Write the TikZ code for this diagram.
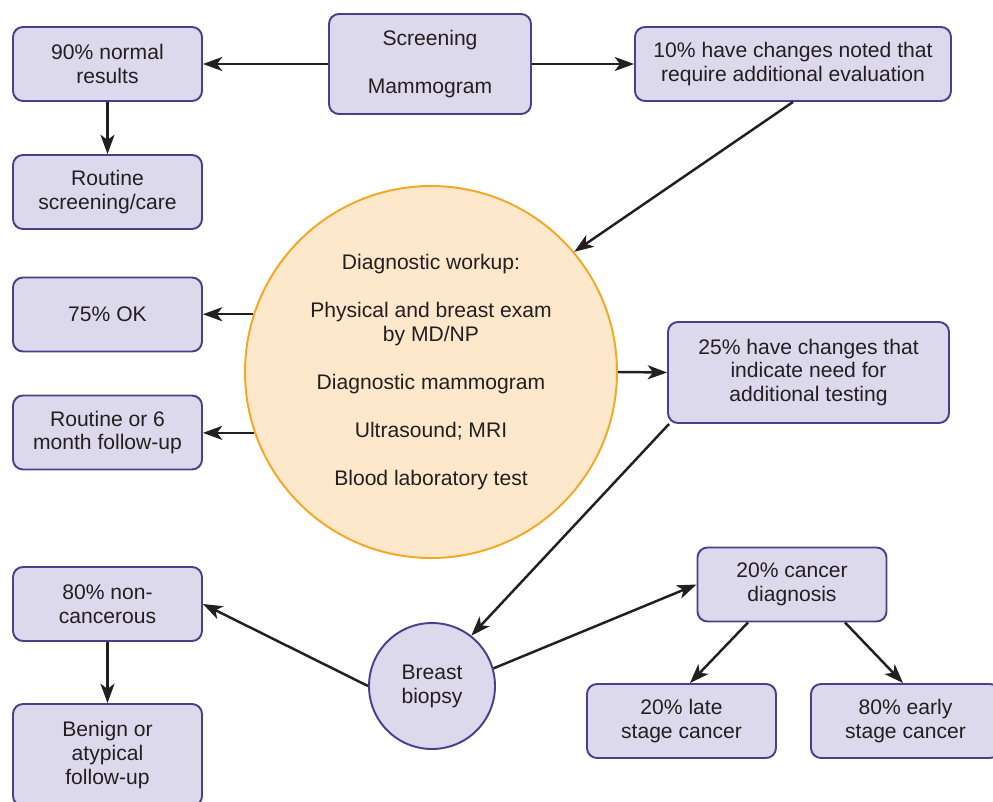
\documentclass[tikz,border=0pt]{standalone}
\usepackage{fontspec}
\setmainfont{Liberation Sans}
\usepackage{xcolor}
\usepackage{tikz}
\usetikzlibrary{calc, arrows.meta, positioning}

\definecolor{boxfill}{HTML}{DCD9EC}
\definecolor{boxline}{HTML}{4B3F8C}
\definecolor{diagfill}{HTML}{FDE8CB}
\definecolor{diagline}{HTML}{F5A623}
\definecolor{arrline}{HTML}{231F20}

\begin{document}
\begin{tikzpicture}[>={Stealth[length=11pt, width=8pt, inset=3pt]},
    every node/.style={font=\fontsize{12}{13.6}\selectfont, text=arrline, align=center},
    box/.style={draw=boxline, fill=boxfill, line width=1.1pt, rounded corners=0.2cm,
        minimum width=3.78cm, minimum height=1.48cm, inner sep=2pt},
    bigcirc/.style={circle, draw=diagline, fill=diagfill, line width=1.1pt, minimum size=7.44cm},
    smallcirc/.style={circle, draw=boxline, fill=boxfill, line width=1.1pt, minimum size=2.52cm},
    arr/.style={->, line width=1.4pt, draw=arrline}]
    % 1. Khung hình
    \useasboundingbox (0,0) rectangle (19.86,-16.02);
    \clip (0,0) rectangle (19.86,-16.02);

    % 2. Các nút
    \node[box, minimum width=4.04cm, minimum height=2cm] (screen) at (8.6,-1.28) {Screening\\[13.6pt]Mammogram};
    \node[box] (normal) at (2.15,-1.28) {90\% normal\\results};
    \node[box] (routine) at (2.15,-3.84) {Routine\\screening/care};
    \node[box, minimum width=6.32cm] (ten) at (15.86,-1.28) {10\% have changes noted that\\require additional evaluation};
    \node[bigcirc] (diag) at (8.62,-7.44) {Diagnostic workup:\\[13.6pt]Physical and breast exam\\by MD/NP\\[13.6pt]Diagnostic mammogram\\[13.6pt]Ultrasound; MRI\\[13.6pt]Blood laboratory test};
    \node[box] (ok) at (2.15,-6.29) {75\% OK};
    \node[box] (followup) at (2.15,-8.65) {Routine or 6\\month follow-up};
    \node[box, minimum width=5.62cm, minimum height=2.02cm] (twentyfive) at (16.17,-7.45) {25\% have changes that\\indicate need for\\additional testing};
    \node[smallcirc] (biopsy) at (8.64,-13.72) {Breast\\biopsy};
    \node[box] (noncanc) at (2.15,-12.08) {80\% non-\\cancerous};
    \node[box, minimum height=2.04cm] (benign) at (2.15,-15.1) {Benign or\\atypical\\follow-up};
    \node[box] (cancer) at (15.84,-11.69) {20\% cancer\\diagnosis};
    \node[box] (late) at (13.63,-14.42) {20\% late\\stage cancer};
    \node[box] (early) at (18.11,-14.42) {80\% early\\stage cancer};

    % 3. Mũi tên
    \draw[arr] (screen.west) -- (normal.east);
    \draw[arr] (screen.east) -- (ten.west);
    \draw[arr] (normal.south) -- (routine.north);
    \draw[arr] (ten.south) -- (diag.40);
    \draw[arr] (diag.162) -- (ok.east |- diag.162);
    \draw[arr] (diag.199) -- (followup.east |- diag.199);
    \draw[arr] (diag.east) -- (twentyfive.west);
    \draw[arr] ([xshift=0.04cm]twentyfive.south west) -- (biopsy.52);
    \draw[arr] (biopsy.west) -- (noncanc.east);
    \draw[arr] (noncanc.south) -- (benign.north);
    \draw[arr] (biopsy.16) -- (cancer.west);
    \draw[arr] ([xshift=-0.88cm]cancer.south) -- ([xshift=0.17cm]late.north);
    \draw[arr] ([xshift=1.06cm]cancer.south) -- ([xshift=-0.05cm]early.north);
\end{tikzpicture}
\end{document}
